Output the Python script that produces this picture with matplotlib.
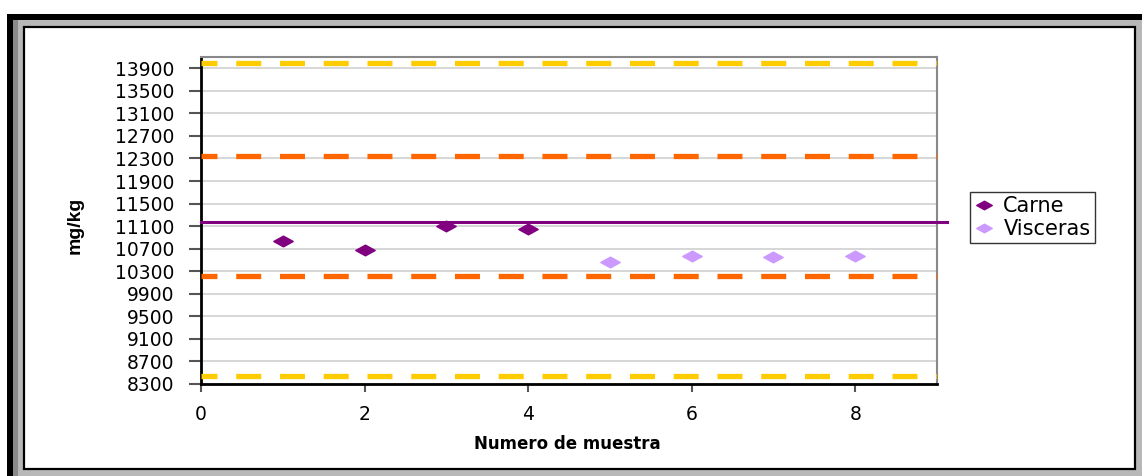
import matplotlib
matplotlib.use("Agg")
import matplotlib.pyplot as plt
from matplotlib.patches import Rectangle
from matplotlib.path import Path

# Data
carne_x = [1, 2, 3, 4]
carne_y = [10840, 10675, 11100, 11052]
visceras_x = [5, 6, 7, 8]
visceras_y = [10462, 10574, 10551, 10569]
mean_line = 11171
inner_limits = [10223, 12341]
outer_limits = [8450, 13990]
yticks = list(range(8300, 14000, 400))
xticks = [0, 2, 4, 6, 8]

plt.rcParams['lines.scale_dashes'] = False
W, H = 1142, 476
fig = plt.figure(figsize=(W / 100, H / 100), dpi=100)

def fx(px):
    return px / W

def fy(py):
    return 1 - py / H

def frect(x0, y0, x1, y1, **kw):
    fig.patches.append(Rectangle((fx(x0), fy(y1)), fx(x1) - fx(x0), fy(y0) - fy(y1),
                                 transform=fig.transFigure, **kw))

# Frame
frect(7, 14, 1142, 476, facecolor='#b8b8b8', edgecolor='none', zorder=-4)
frect(7, 14, 1142, 20, facecolor='black', edgecolor='none', zorder=-3)
frect(7, 14, 13, 476, facecolor='black', edgecolor='none', zorder=-3)
frect(13, 20, 18, 476, facecolor='#8a8a8a', edgecolor='none', zorder=-3)
frect(24, 27, 1135, 469, facecolor='white', edgecolor='black', lw=1.6, zorder=-1)

ax = fig.add_axes([fx(201), fy(384), fx(937) - fx(201), fy(57) - fy(384)])
ax.set_zorder(2)
ax.set_xlim(0, 9)
ax.set_ylim(8300, 14100)
ax.set_yticks(yticks)
ax.set_xticks(xticks)
ax.yaxis.grid(True, color='#d0d0d0', lw=1.2)
ax.set_axisbelow(True)
for s in ['top', 'right']:
    ax.spines[s].set_color('#888888')
    ax.spines[s].set_linewidth(1.5)
ax.spines['left'].set_linewidth(2)
ax.spines['bottom'].set_linewidth(2)
ax.tick_params(axis='y', length=9, width=1.5, color='#555555', labelsize=13.5, pad=10)
ax.tick_params(axis='x', length=6, width=1.5, color='#555555', labelsize=13.5, pad=9)

dash_style = (6.5, (18, 13.5))
for y in outer_limits:
    ax.plot([0, 9], [y, y], color='#FFCC00', lw=3.8, linestyle=dash_style,
            dash_capstyle='butt', zorder=3)
for y in inner_limits:
    ax.plot([0, 9], [y, y], color='#FF6600', lw=3.8, linestyle=dash_style,
            dash_capstyle='butt', zorder=3)
ax.plot([0, 9.12], [mean_line, mean_line], color='#800080', lw=2.2, clip_on=False, zorder=3)

diamond = Path([(-1, 0), (0, 0.55), (1, 0), (0, -0.55), (-1, 0)],
               [Path.MOVETO, Path.LINETO, Path.LINETO, Path.LINETO, Path.CLOSEPOLY])
ax.plot(carne_x, carne_y, ls='none', marker=diamond, ms=14, color='#800080', label='Carne', zorder=4)
ax.plot(visceras_x, visceras_y, ls='none', marker=diamond, ms=14, color='#CC99FF', label='Visceras', zorder=4)

leg = fig.legend(loc='upper left', bbox_to_anchor=(fx(970), fy(192)), fontsize=15, frameon=True,
                 fancybox=False, edgecolor='black', handlelength=0.9, handletextpad=0.5,
                 borderpad=0.2, labelspacing=0.15, markerscale=0.8, borderaxespad=0)
leg.get_frame().set_linewidth(1)

fig.text(fx(75), fy(225), 'mg/kg', rotation=90, ha='center', va='center', fontsize=14,
         fontweight='bold', family=['Liberation Sans Narrow', 'Liberation Sans', 'DejaVu Sans'])
fig.text(fx(567), fy(444), 'Numero de muestra', ha='center', va='center', fontsize=12, fontweight='bold')

fig.savefig('out.png', dpi=100)
